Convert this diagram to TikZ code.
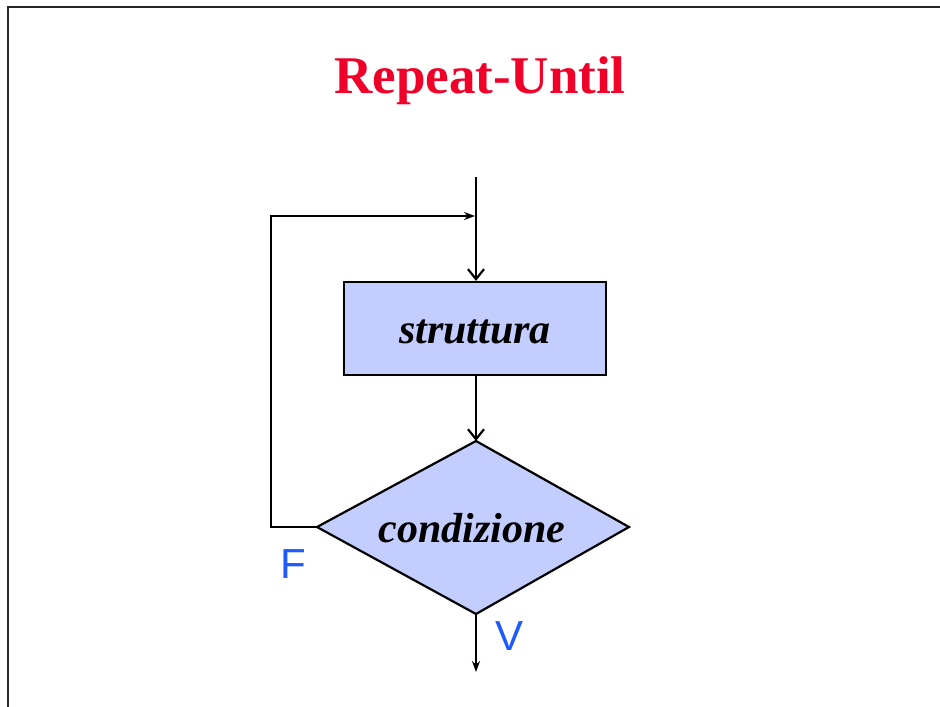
\documentclass[tikz,border=0pt]{standalone}
\usepackage{fontspec}
\setmainfont{Liberation Serif}
\setsansfont{Liberation Sans}
\usetikzlibrary{arrows.meta,shapes.geometric}
\definecolor{titlered}{RGB}{240,0,40}
\definecolor{lblue}{RGB}{30,90,255}
\definecolor{boxfill}{RGB}{196,205,255}
\tikzset{
  flowline/.style={line width=2.2pt,black},
  bigtip/.style={-{Straight Barb[length=10pt,width=16pt,line width=2.2pt]}},
  smalltip/.style={-{Stealth[length=11pt,width=8pt]}},
  lbl/.style={font=\sffamily\fontsize{42}{42}\selectfont,text=lblue,inner sep=0pt},
  boxtext/.style={font=\bfseries\itshape\fontsize{42}{42}\selectfont}
}
\begin{document}
\begin{tikzpicture}[x=1pt,y=-1pt]
\useasboundingbox (0,0) rectangle (940,707);
\draw[line width=2pt,black!85] (8,707) -- (8,7) -- (940,7);
\node[text=titlered,font=\bfseries\fontsize{53}{53}\selectfont,inner sep=0pt,anchor=base] (title) at (480,93) {Repeat-Until};
\coordinate (start) at (476,177);
\node[draw,line width=2.2pt,fill=boxfill,minimum width=262pt,minimum height=93pt,inner sep=0pt] (box) at (475,328.5) {};
\node[boxtext,anchor=base] (boxlbl) at (475,343) {struttura};
\coordinate (dtop) at (476,441);
\coordinate (dleft) at (317,527);
\coordinate (dright) at (629,527);
\coordinate (dbot) at (476,614);
\draw[line width=2.2pt,fill=boxfill,line join=miter] (dtop) -- (dright) -- (dbot) -- (dleft) -- cycle;
\node[boxtext,anchor=base] (cond) at (472,542) {condizione};
\coordinate (loopA) at (271,527);
\coordinate (loopB) at (271,216);
\coordinate (loopC) at (475,216);
\coordinate (endpt) at (476,672);
\draw[flowline,bigtip] (start) -- (box.north -| start);
\draw[flowline,bigtip] (box.south -| dtop) -- (dtop);
\draw[flowline,smalltip] (dleft) -- (loopA) -- (loopB) -- (loopC);
\draw[flowline,smalltip] (dbot) -- (endpt);
\node[lbl] (F) at (293,564) {F};
\node[lbl] (V) at (510,636) {V};
\end{tikzpicture}
\end{document}
